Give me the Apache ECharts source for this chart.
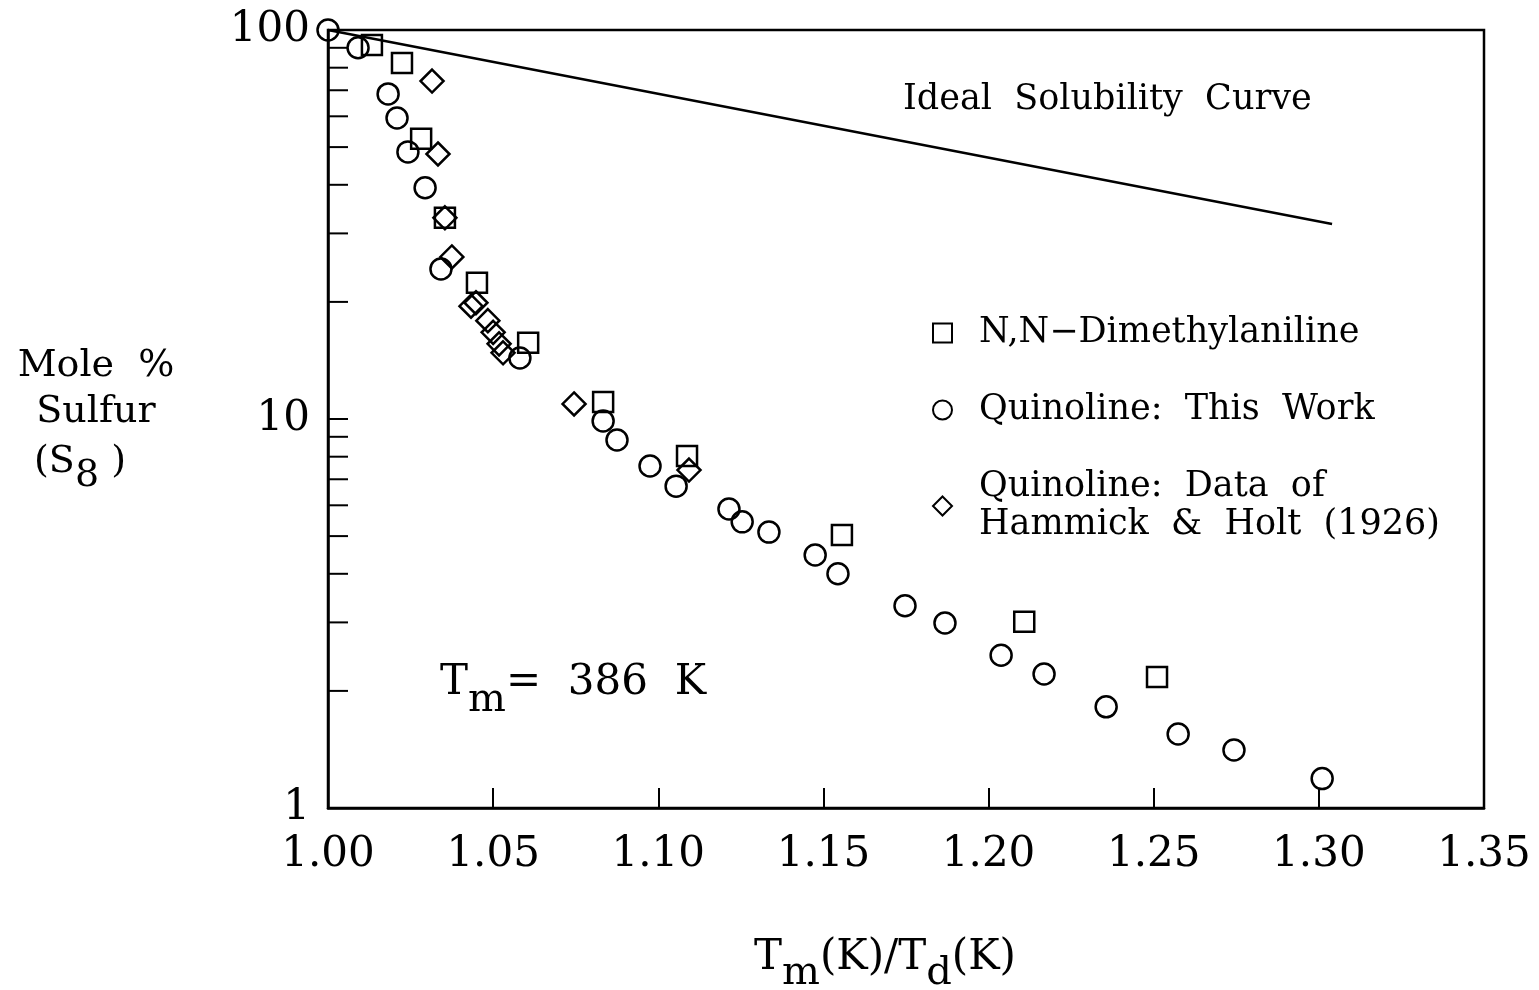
<!DOCTYPE html>
<html><head><meta charset="utf-8">
<script src="https://cdn.jsdelivr.net/npm/echarts@6/dist/echarts.min.js"></script>
<style>html,body{margin:0;padding:0;background:#fff}#c{width:1539px;height:990px}</style>
</head><body><div id="c"></div>
<script>
// ---- data ----
const xMin = 1.00, xMax = 1.35, xStep = 0.05;
const yMin = 1, yMax = 100;
const yMinorTicks = [2, 3, 4, 5, 6, 7, 8, 9, 20, 30, 40, 50, 60, 70, 80, 90];

const dmaName = 'N,N-Dimethylaniline';
const dmaX = [1.0133, 1.0224, 1.0282, 1.0354, 1.0451, 1.0606, 1.0833, 1.1087, 1.1556, 1.2108, 1.2510];
const dmaY = [91.5, 82.3, 52.5, 32.9, 22.4, 15.7, 11.06, 8.03, 5.03, 3.01, 2.17];

const quinName = 'Quinoline: This Work';
const quinX = [1.0000, 1.0091, 1.0182, 1.0209, 1.0242, 1.0294, 1.0342, 1.0581, 1.0833, 1.0875, 1.0975, 1.1054, 1.1214, 1.1254, 1.1335, 1.1475, 1.1544, 1.1747, 1.1868, 1.2038, 1.2168, 1.2356, 1.2574, 1.2743, 1.3010];
const quinY = [100, 90, 68.5, 59.4, 48.6, 39.3, 24.3, 14.35, 9.88, 8.83, 7.57, 6.72, 5.87, 5.44, 5.12, 4.47, 4.0, 3.31, 2.99, 2.47, 2.21, 1.82, 1.55, 1.41, 1.19];

const hhName = 'Quinoline: Data of Hammick & Holt (1926)';
const hhX = [1.0315, 1.0333, 1.0354, 1.0375, 1.0433, 1.0448, 1.0484, 1.0500, 1.0518, 1.0530, 1.0745, 1.1093];
const hhY = [73.9, 48.0, 32.9, 26.1, 19.5, 19.9, 17.9, 16.7, 15.6, 14.8, 10.93, 7.39];

const idealX = [1.00, 1.304];
const idealY = [100, 31.7];

const legendLabels = {};
legendLabels[dmaName] = 'N,N\u2212Dimethylaniline';
legendLabels[quinName] = 'Quinoline:  This  Work';
legendLabels[hhName] = 'Quinoline:  Data  of\nHammick  &  Holt  (1926)';

// ---- chart ----
const FONT = '"DejaVu Serif", "Liberation Serif", serif';
const zip = (a, b) => a.map((v, i) => [v, b[i]]);
const markerStyle = { color: 'rgba(0,0,0,0)', borderColor: '#000', borderWidth: 2.5, opacity: 1 };

function txt(x, y, text, size, align, rich) {
  return { type: 'text', x: x, y: y, silent: true,
    style: { text: text, fontFamily: FONT, fontSize: size, fill: '#000',
      align: align || 'left', verticalAlign: 'middle', rich: rich || {} } };
}
const subRich = (base, sub, drop) => ({
  n: { fontFamily: FONT, fontSize: base, fill: '#000' },
  s: { fontFamily: FONT, fontSize: sub, fill: '#000', padding: [drop * 2, 0, 0, 0] }
});

const chart = echarts.init(document.getElementById('c'), null, { renderer: 'canvas' });
chart.setOption({
  animation: false,
  backgroundColor: '#fff',
  grid: { left: 328, right: 55, top: 30, bottom: 182, show: true, borderColor: '#000', borderWidth: 2.5, backgroundColor: 'transparent' },
  xAxis: {
    type: 'value', min: xMin, max: xMax, interval: xStep,
    axisLine: { show: true, lineStyle: { color: '#000', width: 2.5 } },
    axisTick: { show: true, inside: true, length: 20, lineStyle: { color: '#000', width: 2 } },
    splitLine: { show: false },
    axisLabel: { color: '#000', fontFamily: FONT, fontSize: 42, margin: 26, formatter: v => v.toFixed(2) }
  },
  yAxis: {
    type: 'log', logBase: 10, min: yMin, max: yMax,
    axisLine: { show: true, lineStyle: { color: '#000', width: 2.5 } },
    axisTick: { show: true, inside: true, length: 20, lineStyle: { color: '#000', width: 2 } },
    splitLine: { show: false },
    axisLabel: { color: '#000', fontFamily: FONT, fontSize: 42, margin: 18 }
  },
  legend: {
    orient: 'vertical', left: 932, top: 314, padding: 0,
    itemWidth: 19, itemHeight: 19, itemGap: 39,
    data: [dmaName, quinName, hhName],
    formatter: n => legendLabels[n],
    textStyle: { color: '#000', fontFamily: FONT, fontSize: 35, lineHeight: 38, padding: [0, 0, 0, 22] },
    selectedMode: false
  },
  series: [
    { name: 'Ideal Solubility Curve', type: 'line', data: zip(idealX, idealY), showSymbol: false, symbol: 'none',
      lineStyle: { color: '#000', width: 2.5 }, silent: true },
    { name: dmaName, type: 'scatter', symbol: 'rect', symbolSize: 20, data: zip(dmaX, dmaY), itemStyle: markerStyle, clip: false },
    { name: quinName, type: 'scatter', symbol: 'circle', symbolSize: 21, data: zip(quinX, quinY), itemStyle: markerStyle, clip: false },
    { name: hhName, type: 'scatter', symbol: 'diamond', symbolSize: 23, data: zip(hhX, hhY), itemStyle: markerStyle, clip: false },
    { name: 'minorTicks', type: 'custom', silent: true, clip: false,
      data: yMinorTicks.map(v => [xMin, v]),
      encode: { x: 0, y: 1 },
      renderItem: function (params, api) {
        const p = api.coord([api.value(0), api.value(1)]);
        return { type: 'line', shape: { x1: p[0], y1: p[1], x2: p[0] + 20, y2: p[1] },
          style: { stroke: '#000', lineWidth: 2 } };
      } }
  ],
  graphic: [
    txt(903, 100, 'Ideal  Solubility  Curve', 35),
    txt(440, 683, '{n|T}{s|m}{n|=  386  K}', 42, 'left', subRich(42, 40, 18)),
    txt(96, 366, 'Mole  %', 38, 'center'),
    txt(96, 412, 'Sulfur', 38, 'center'),
    txt(80, 462, '{n|(S}{s|8}{n| )}', 38, 'center', subRich(38, 38, 14)),
    txt(885, 958, '{n|T}{s|m}{n|(K)/T}{s|d}{n|(K)}', 42, 'center', subRich(42, 40, 16))
  ]
});
</script></body></html>
